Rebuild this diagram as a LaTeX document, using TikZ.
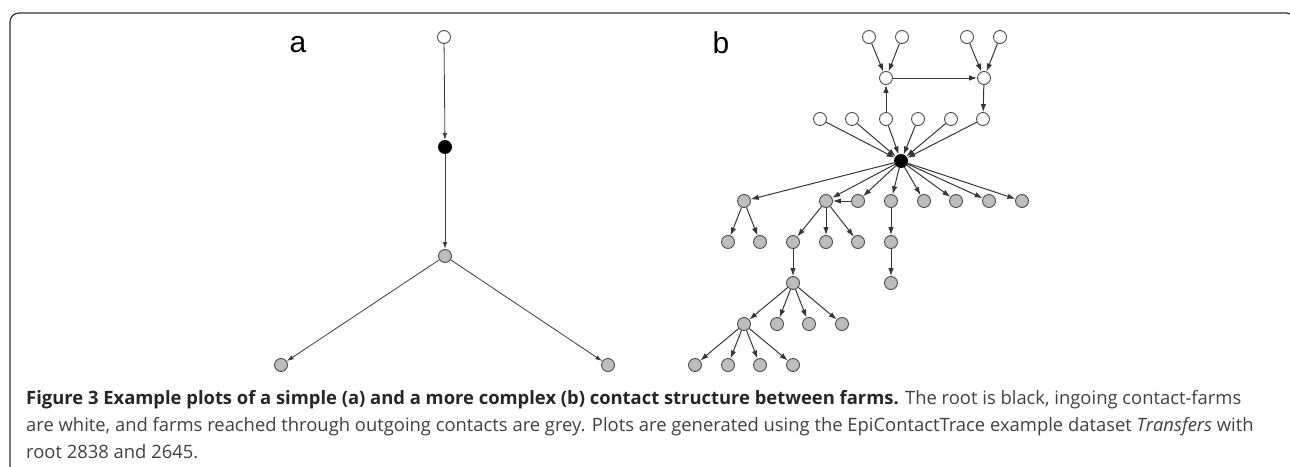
\documentclass[tikz,border=0pt]{standalone}
\usepackage{fontspec}
\usepackage{tikz}
\usetikzlibrary{arrows.meta}
\newfontfamily\panelfont{Liberation Sans}
\newfontfamily\capfont{Open Sans}
\definecolor{framegray}{HTML}{303030}
\definecolor{edgegray}{HTML}{3C3C3C}
\definecolor{rimgray}{HTML}{4A4A4A}
\definecolor{farmgray}{HTML}{BDBDBD}
\definecolor{captext}{HTML}{404040}
\tikzset{>={Latex[length=7pt,width=4.5pt]}}
\tikzset{
  farm/.style={circle,draw=rimgray,line width=0.9pt,minimum size=13pt,inner sep=0pt},
  inwhite/.style={farm,fill=white},
  rootnode/.style={farm,fill=black,draw=black},
  outgrey/.style={farm,fill=farmgray},
  contact/.style={->,draw=edgegray,line width=0.8pt},
  bcontact/.style={-{Latex[length=8pt,width=5.5pt]},draw=edgegray!90!black,line width=1pt},
  panel/.style={font=\panelfont\fontsize{30}{30}\selectfont},
  capline/.style={anchor=base west,inner sep=0pt,text=captext,font=\capfont\fontsize{18.4}{27}\selectfont}
}
\begin{document}
\begin{tikzpicture}[x=1pt,y=-1pt]
        \useasboundingbox (0,0) rectangle (1290,466);
        \draw[framegray,line width=1.2pt,rounded corners=9pt] (10,470) -- (10,13) -- (1295,13) -- (1295,470);
        %%%
        \node[panel] (lab-a) at (298,45) {a};
        \node[panel] (lab-b) at (721,43) {b};
        %%%
        \node[inwhite] (a-in) at (444,37) {};
        \node[rootnode] (a-root) at (445,147) {};
        \node[outgrey] (a-out) at (445,256) {};
        \node[outgrey] (a-l) at (281,365) {};
        \node[outgrey] (a-r) at (608,365) {};
        \draw[contact] (a-in) -- (a-root);
        \draw[contact] (a-root) -- (a-out);
        \draw[contact] (a-out) -- (a-l);
        \draw[contact] (a-out) -- (a-r);
        %%%
        \foreach \x [count=\i] in {869,902,967,1000} \node[inwhite] (t\i) at (\x,37) {};
        \node[inwhite] (m1) at (886,78) {};
        \node[inwhite] (m2) at (984,78) {};
        \foreach \x [count=\i] in {820,852,886,918,951,983} \node[inwhite] (w\i) at (\x,119) {};
        \node[rootnode] (r) at (901,161) {};
        \foreach \x [count=\i] in {744,826,858,891,924,956,989,1022} \node[outgrey] (g\i) at (\x,201) {};
        \foreach \x [count=\i] in {728,760,793,826,858,891} \node[outgrey] (h\i) at (\x,242) {};
        \node[outgrey] (k1) at (793,283) {};
        \node[outgrey] (k2) at (891,283) {};
        \foreach \x [count=\i] in {744,777,809,842} \node[outgrey] (p\i) at (\x,324) {};
        \foreach \x [count=\i] in {695,728,760,793} \node[outgrey] (q\i) at (\x,365) {};
        %%%
        \draw[bcontact] (t1) -- (m1);
        \draw[bcontact] (t2) -- (m1);
        \draw[bcontact] (t3) -- (m2);
        \draw[bcontact] (t4) -- (m2);
        \draw[bcontact] (m1) -- (m2);
        \draw[bcontact] (w3) -- (m1);
        \draw[bcontact] (m2) -- (w6);
        \foreach \i in {1,...,6} \draw[bcontact] (w\i) -- (r);
        \foreach \i in {1,...,8} \draw[bcontact] (r) -- (g\i);
        \draw[bcontact] (g3) -- (g2);
        \draw[bcontact] (g1) -- (h1);
        \draw[bcontact] (g1) -- (h2);
        \draw[bcontact] (g2) -- (h3);
        \draw[bcontact] (g2) -- (h4);
        \draw[bcontact] (g2) -- (h5);
        \draw[bcontact] (g4) -- (h6);
        \draw[bcontact] (h6) -- (k2);
        \draw[bcontact] (h3) -- (k1);
        \foreach \i in {1,...,4} \draw[bcontact] (k1) -- (p\i);
        \foreach \i in {1,...,4} \draw[bcontact] (p1) -- (q\i);
        %%%
        \node[capline] (cap1) at (26,404) {\textbf{\color{black!85}Figure 3 Example plots of a simple (a) and a more complex (b) contact structure between farms.} The root is black, ingoing contact-farms};
        \node[capline] (cap2) at (26,431) {are white, and farms reached through outgoing contacts are grey. Plots are generated using the EpiContactTrace example dataset \textit{Transfers} with};
        \node[capline] (cap3) at (26,458) {root 2838 and 2645.};
\end{tikzpicture}
\end{document}
